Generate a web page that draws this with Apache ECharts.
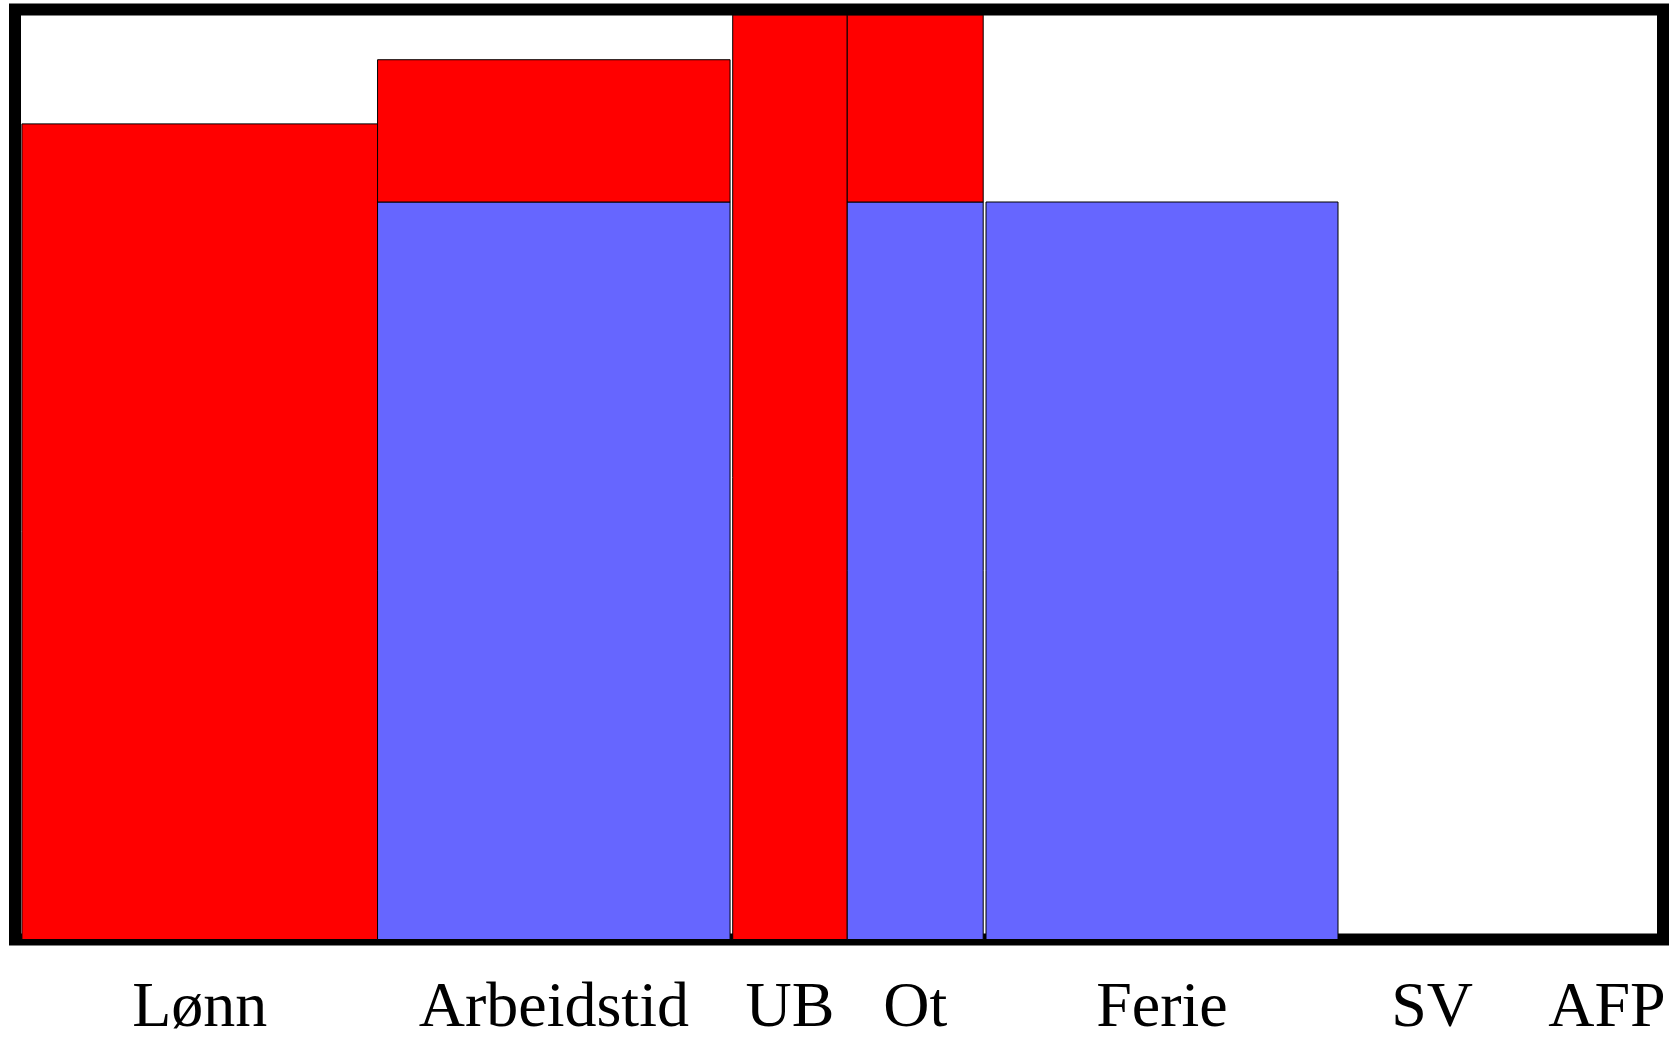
<!DOCTYPE html>
<html>
<head>
<meta charset="utf-8">
<script src="https://cdn.jsdelivr.net/npm/echarts@6/dist/echarts.min.js"></script>
<style>
html,body{margin:0;padding:0;background:#fff;}
#chart{width:1670px;height:1037px;}
</style>
</head>
<body>
<div id="chart"></div>
<script>
// Categories and values (x extent = bar width on horizontal value scale, 0..100)
var categories = ['Lønn', 'Arbeidstid', 'UB', 'Ot', 'Ferie', 'SV', 'AFP'];
var xStart     = [0.42, 22.0, 43.55, 50.5, 58.92, 80.28, 91.7];
var xEnd       = [22.0, 43.39, 50.5, 58.75, 80.28, 91.7, 101.5];
var blueValues = [0, 79.3, 0, 79.3, 79.3, 0, 0];
var redValues  = [87.7, 15.3, 99.4, 20.1, 0, 0, 0];

var data = categories.map(function (c, i) {
  return [xStart[i], xEnd[i], blueValues[i], redValues[i], i];
});

var chart = echarts.init(document.getElementById('chart'), null, {renderer: 'canvas'});

function renderItem(params, api) {
  var x0 = api.value(0), x1 = api.value(1);
  var b = api.value(2), r = api.value(3);
  var idx = api.value(4);
  var pB0 = api.coord([x0, 0]);
  var pB1 = api.coord([x1, b]);
  var pR1 = api.coord([x1, b + r]);
  var children = [];
  if (b > 0) {
    children.push({
      type: 'rect',
      shape: {x: pB0[0], y: pB1[1], width: pB1[0] - pB0[0], height: pB0[1] - pB1[1]},
      style: {fill: '#6666ff', stroke: '#000', lineWidth: 1}
    });
  }
  if (r > 0) {
    children.push({
      type: 'rect',
      shape: {x: pB0[0], y: pR1[1], width: pB1[0] - pB0[0], height: pB1[1] - pR1[1]},
      style: {fill: '#ff0000', stroke: '#000', lineWidth: 1}
    });
  }
  children.push({
    type: 'text',
    style: {
      x: (pB0[0] + pB1[0]) / 2,
      y: pB0[1] + 70,
      text: categories[idx],
      font: '64px "Liberation Serif", "Times New Roman", serif',
      fill: '#000',
      align: 'center',
      verticalAlign: 'middle'
    }
  });
  return {type: 'group', children: children};
}

chart.setOption({
  animation: false,
  backgroundColor: '#fff',
  grid: {
    left: 15, top: 9.5, right: 7, bottom: 97.5,
    show: true, borderColor: '#000', borderWidth: 12, backgroundColor: 'transparent'
  },
  xAxis: {
    type: 'value', min: 0, max: 100,
    axisLine: {show: false}, axisTick: {show: false}, axisLabel: {show: false}, splitLine: {show: false}
  },
  yAxis: {
    type: 'value', min: 0, max: 100,
    axisLine: {show: false}, axisTick: {show: false}, axisLabel: {show: false}, splitLine: {show: false}
  },
  series: [{
    type: 'custom',
    renderItem: renderItem,
    clip: false,
    data: data,
    encode: {x: [0, 1], y: [2]}
  }]
});
</script>
</body>
</html>
